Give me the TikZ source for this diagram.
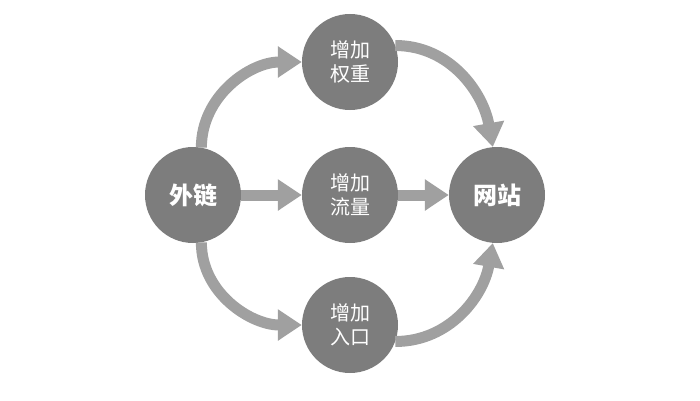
\documentclass[tikz,border=0pt]{standalone}
\usepackage{fontspec}
\newfontfamily\cjk{Noto Sans CJK SC}
\usetikzlibrary{arrows.meta}
\definecolor{myGray}{RGB}{125,125,125}
\definecolor{arrowGray}{RGB}{160,160,160}

\begin{document}
\begin{tikzpicture}[x=1pt,y=1pt,%
    every node/.style={
        font=\cjk\fontsize{20}{24}\selectfont,
        text=white,
    },
    bubble/.style={circle,fill=myGray,minimum size=96pt,inner sep=0pt,align=center},
    flow/.style={draw=arrowGray,line width=11pt,-{Triangle[width=30pt,length=24pt]}},
]
\useasboundingbox (0,0) rectangle (700,400);

% place circles
\node[bubble,font=\cjk\bfseries\fontsize{24}{28}\selectfont] (wailian) at (193,205) {外链};
\node[bubble] (quanzhong) at (350,338) {增加\\权重};
\node[bubble] (liuliang) at (350,205) {增加\\流量};
\node[bubble] (rukou) at (350,75) {增加\\入口};
\node[bubble,font=\cjk\bfseries\fontsize{24}{28}\selectfont] (wangzhan) at (497,205) {网站};

% draw curved arrows
\draw[flow] (wailian.80) to[out=90,in=180] (quanzhong.west);
\draw[flow] (quanzhong.20) to[out=0,in=100] (wangzhan.95);
\draw[flow] (wailian.280) to[out=270,in=180] (rukou.west);
\draw[flow] (rukou.-20) to[out=0,in=260] (wangzhan.265);

% draw straight arrows
\draw[flow] (wailian) -- (liuliang);
\draw[flow] (liuliang) -- (wangzhan);

\end{tikzpicture}
\end{document}
